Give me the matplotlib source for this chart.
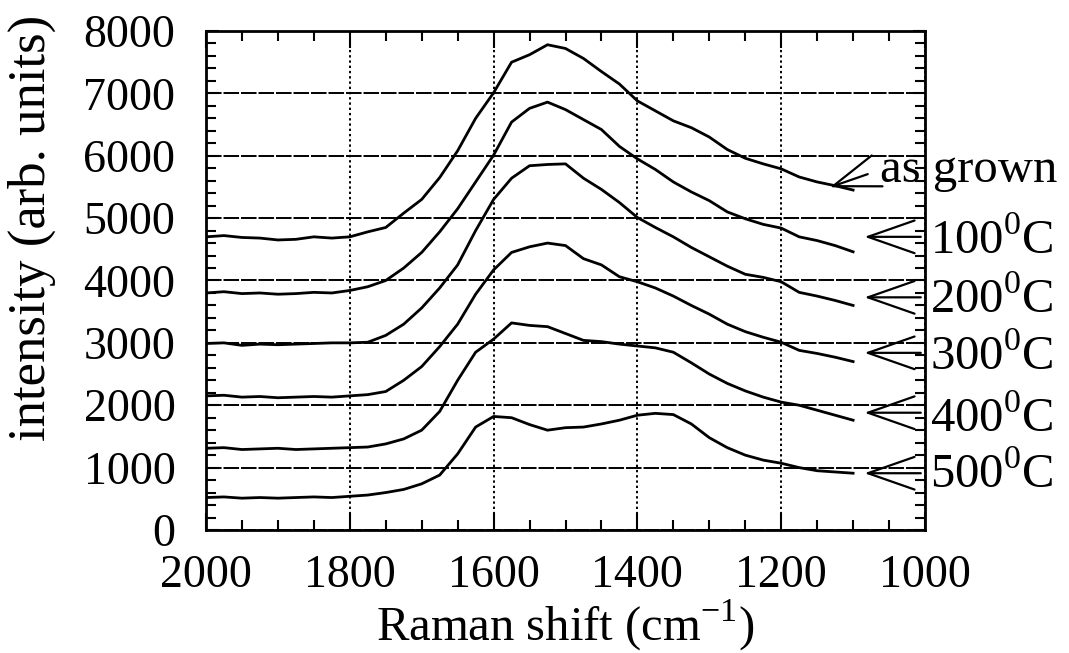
import matplotlib
matplotlib.use('Agg')
import matplotlib.pyplot as plt
from matplotlib.ticker import MultipleLocator
import numpy as np

plt.rcParams['font.family'] = ['Liberation Serif', 'DejaVu Serif']
plt.rcParams['mathtext.fontset'] = 'custom'
plt.rcParams['mathtext.rm'] = 'Liberation Serif'
plt.rcParams['font.size'] = 35

# Raman shift (cm^-1), every 25 from 2000 to 1100
shift = np.arange(2000, 1099, -25)

as_grown = [4700, 4720, 4690, 4680, 4650, 4660, 4700, 4680, 4700, 4780, 4850, 5080,
            5300, 5650, 6080, 6600, 7010, 7500, 7620, 7780, 7720, 7560, 7350, 7150,
            6880, 6720, 6560, 6450, 6300, 6100, 5960, 5870, 5790, 5660, 5580, 5520, 5450]
t100 = [3800, 3820, 3790, 3800, 3780, 3790, 3810, 3800, 3840, 3900, 4000, 4200,
        4450, 4780, 5150, 5580, 6010, 6540, 6760, 6860, 6740, 6580, 6420, 6150,
        5950, 5780, 5580, 5420, 5280, 5100, 4990, 4900, 4840, 4700, 4640, 4560, 4460]
t200 = [2990, 3000, 2960, 2980, 2970, 2980, 2990, 3000, 3000, 3010, 3120, 3300,
        3560, 3880, 4250, 4800, 5300, 5640, 5840, 5860, 5870, 5640, 5460, 5250,
        5010, 4850, 4700, 4530, 4380, 4230, 4100, 4050, 3980, 3810, 3750, 3680, 3600]
t300 = [2150, 2160, 2130, 2140, 2120, 2130, 2140, 2130, 2150, 2170, 2220, 2400,
        2620, 2940, 3300, 3780, 4170, 4450, 4540, 4600, 4560, 4350, 4250, 4060,
        3980, 3880, 3750, 3600, 3460, 3300, 3180, 3090, 3010, 2880, 2830, 2770, 2700]
t400 = [1310, 1320, 1290, 1300, 1310, 1290, 1300, 1310, 1320, 1330, 1380, 1460,
        1600, 1900, 2400, 2850, 3060, 3320, 3280, 3260, 3150, 3040, 3020, 2980,
        2950, 2920, 2850, 2680, 2500, 2350, 2230, 2130, 2050, 2000, 1920, 1840, 1760]
t500 = [520, 530, 510, 520, 510, 520, 530, 520, 540, 560, 600, 650,
        740, 880, 1220, 1650, 1820, 1800, 1690, 1600, 1640, 1650, 1700, 1760,
        1840, 1870, 1850, 1700, 1480, 1320, 1200, 1120, 1070, 1000, 950, 930, 910]

series = [as_grown, t100, t200, t300, t400, t500]
temp_labels = ['100$^{\\mathrm{0}}$C', '200$^{\\mathrm{0}}$C', '300$^{\\mathrm{0}}$C',
               '400$^{\\mathrm{0}}$C', '500$^{\\mathrm{0}}$C']
arrow_y = [4700, 3730, 2840, 1880, 910]
label_base = [4420, 3480, 2560, 1570, 670]

fig = plt.figure(figsize=(10.69, 6.53), dpi=100)
ax = fig.add_axes([0.1927, 0.1884, 0.6726, 0.7641])

for s in series:
    ax.plot(shift, s, color='black', lw=2)

ax.set_xlim(2000, 1000)
ax.set_ylim(0, 8000)
ax.xaxis.set_major_locator(MultipleLocator(200))
ax.xaxis.set_minor_locator(MultipleLocator(50))
ax.yaxis.set_major_locator(MultipleLocator(1000))
ax.yaxis.set_minor_locator(MultipleLocator(200))

ax.tick_params(which='both', direction='in', top=True, right=True, width=1.5, labelsize=33)
ax.tick_params(axis='x', which='major', length=12, pad=18)
ax.tick_params(axis='x', which='minor', length=7)
ax.tick_params(axis='y', which='major', length=9, pad=22)
ax.tick_params(axis='y', which='minor', length=7)
for sp in ax.spines.values():
    sp.set_linewidth(2)

ax.xaxis.grid(True, linestyle=(0, (1.2, 1.5)), color='black', lw=1.4)
ax.yaxis.grid(True, linestyle=(0, (8, 1)), color='black', lw=1.4)

ax.set_xlabel('Raman shift (cm$^{\\mathrm{-1}}$)', fontsize=35, labelpad=0)
ax.set_ylabel('intensity (arb. units)', fontsize=38)
ax.yaxis.set_label_coords(-0.208, 0.605)

# annotations
arrow_style = dict(arrowstyle='->,head_length=0.8,head_width=0.28', color='black',
                   lw=1.6, mutation_scale=42)
ax.annotate('', xy=(1136, 5480), xytext=(1076, 5720), arrowprops=arrow_style,
            annotation_clip=False)
ax.text(1063, 5580, 'as grown', ha='left', va='baseline', fontsize=35, clip_on=False)
for lab, ya, yb in zip(temp_labels, arrow_y, label_base):
    ax.annotate('', xy=(1088, ya), xytext=(1002, ya), arrowprops=arrow_style,
                annotation_clip=False)
    ax.text(993, yb, lab, ha='left', va='baseline', fontsize=35, clip_on=False)

fig.savefig('out.png', dpi=100)
